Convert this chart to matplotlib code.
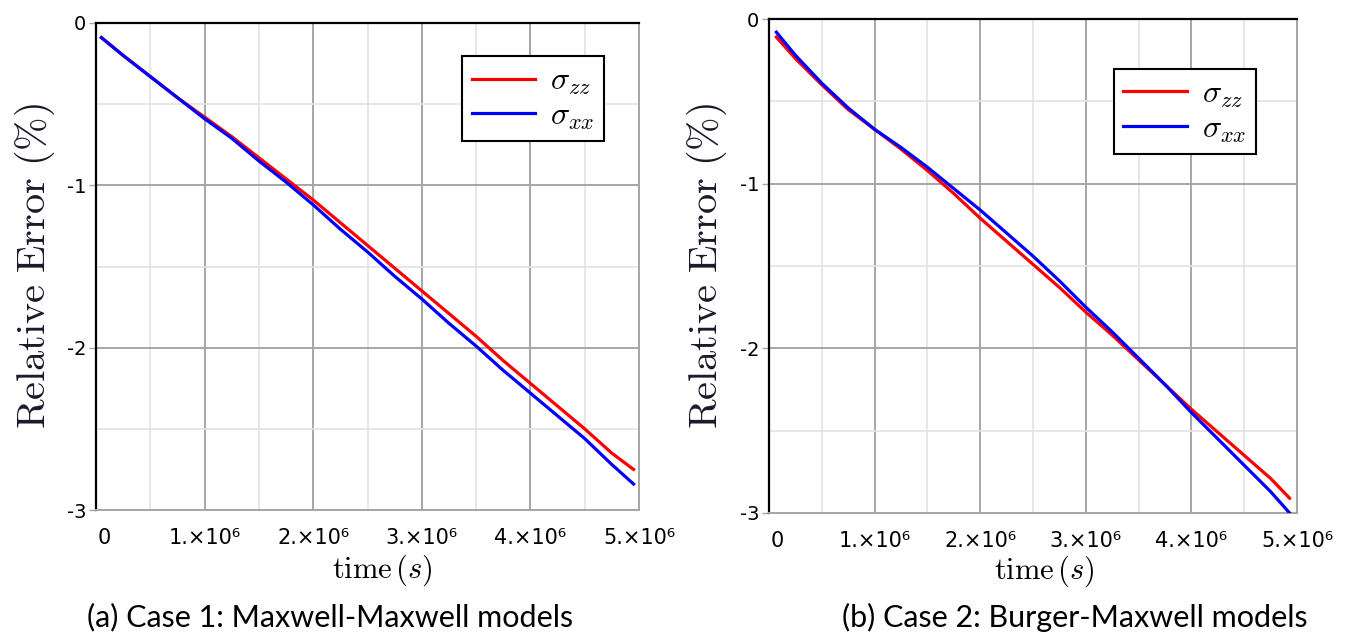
import matplotlib
matplotlib.use('agg')
import matplotlib.pyplot as plt
import matplotlib.transforms as mtransforms
from matplotlib.ticker import MultipleLocator, FixedLocator, FixedFormatter

plt.rcParams['mathtext.fontset'] = 'cm'

# Case 1: Maxwell-Maxwell
t1 = [0.05e6, 0.25e6, 0.5e6, 0.75e6, 1.0e6, 1.25e6, 1.5e6, 1.75e6, 2.0e6, 2.25e6, 2.5e6,
      2.75e6, 3.0e6, 3.25e6, 3.5e6, 3.75e6, 4.0e6, 4.25e6, 4.5e6, 4.75e6, 4.95e6]
zz1 = [-0.09, -0.20, -0.33, -0.46, -0.58, -0.70, -0.83, -0.96, -1.09, -1.23, -1.37,
       -1.51, -1.65, -1.79, -1.93, -2.08, -2.22, -2.36, -2.50, -2.65, -2.75]
xx1 = [-0.09, -0.20, -0.33, -0.46, -0.59, -0.71, -0.85, -0.98, -1.12, -1.27, -1.41,
       -1.56, -1.70, -1.85, -1.99, -2.14, -2.28, -2.42, -2.56, -2.72, -2.84]

# Case 2: Burger-Maxwell
t2 = [0.07e6, 0.25e6, 0.5e6, 0.75e6, 1.0e6, 1.25e6, 1.5e6, 1.75e6, 2.0e6, 2.25e6, 2.5e6,
      2.75e6, 3.0e6, 3.25e6, 3.5e6, 3.75e6, 4.0e6, 4.25e6, 4.5e6, 4.75e6, 4.93e6]
zz2 = [-0.11, -0.24, -0.40, -0.55, -0.67, -0.79, -0.92, -1.06, -1.21, -1.35, -1.49,
       -1.63, -1.78, -1.92, -2.07, -2.22, -2.37, -2.51, -2.65, -2.79, -2.91]
xx2 = [-0.08, -0.22, -0.39, -0.54, -0.67, -0.78, -0.90, -1.03, -1.16, -1.30, -1.44,
       -1.59, -1.75, -1.90, -2.06, -2.22, -2.39, -2.55, -2.71, -2.87, -3.00]

xticks = [0, 1e6, 2e6, 3e6, 4e6, 5e6]
xlabels = ['0', '1.×10⁶', '2.×10⁶', '3.×10⁶', '4.×10⁶', '5.×10⁶']
yticks = [0, -1, -2, -3]
ylabels = ['0', '-1', '-2', '-3']

W, H = 1349, 639
fig = plt.figure(figsize=(W / 100, H / 100), dpi=100)


def panel(rect, t, zz, xx, leg_pos, ylab_x, xlab_pos):
    ax = fig.add_axes(rect)
    ax.plot(t, zz, color='#ff0000', lw=2.3, label=r'$\sigma_{zz}$', zorder=3)
    ax.plot(t, xx, color='#0000ff', lw=2.3, label=r'$\sigma_{xx}$', zorder=3)
    ax.set_xlim(0, 5e6)
    ax.set_ylim(-3, 0)

    ax.xaxis.set_major_locator(FixedLocator(xticks))
    ax.xaxis.set_major_formatter(FixedFormatter(xlabels))
    ax.yaxis.set_major_locator(FixedLocator(yticks))
    ax.yaxis.set_major_formatter(FixedFormatter(ylabels))
    ax.xaxis.set_minor_locator(MultipleLocator(0.5e6))
    ax.yaxis.set_minor_locator(MultipleLocator(0.5))

    ax.grid(which='major', color='#a6a6a6', lw=1.4, zorder=0)
    ax.grid(which='minor', color='#e3e3e3', lw=1.2, zorder=0)
    ax.set_axisbelow(True)

    ax.tick_params(axis='x', which='both', length=0, pad=13, labelsize=15)
    ax.tick_params(axis='y', which='major', length=5, width=1, color='#a6a6a6',
                   pad=2, labelsize=14)
    ax.tick_params(axis='y', which='minor', length=0)

    # nudge the "0" under the origin a little to the right
    first = ax.get_xticklabels()[0]
    first.set_transform(first.get_transform() +
                        mtransforms.ScaledTranslation(8 / 100, 0, fig.dpi_scale_trans))

    for s in ['left', 'top']:
        ax.spines[s].set_color('black')
        ax.spines[s].set_linewidth(1.6)
    for s in ['bottom', 'right']:
        ax.spines[s].set_color('#a6a6a6')
        ax.spines[s].set_linewidth(1.4)

    ax.text(ylab_x, 0.5, r'$\mathrm{Relative\ Error\ (\%)}$', transform=ax.transAxes,
            rotation=90, ha='center', va='center', fontsize=29, color='#1a1a2a')
    ax.text(xlab_pos[0], xlab_pos[1], r'$\mathrm{time}\,(s)$', transform=ax.transAxes,
            ha='center', va='center', fontsize=22)

    leg = ax.legend(loc='upper left', bbox_to_anchor=leg_pos, fontsize=23,
                    frameon=True, fancybox=False, framealpha=1, edgecolor='black',
                    handlelength=2.0, handletextpad=0.45, borderpad=0.3,
                    labelspacing=0.1, borderaxespad=0)
    leg.get_frame().set_linewidth(1.5)
    return ax


ax1 = panel([96 / W, 1 - 510 / H, 543 / W, 487 / H], t1, zz1, xx1,
            (0.674, 0.932), -0.112, (0.527, -0.123))
ax2 = panel([769 / W, 1 - 513 / H, 528 / W, 494 / H], t2, zz2, xx2,
            (0.653, 0.899), -0.117, (0.521, -0.117))

fig.text(330 / W, 1 - 617 / H, '(a) Case 1: Maxwell-Maxwell models', ha='center',
         va='center', fontsize=22, family='Lato')
fig.text(1075 / W, 1 - 617 / H, '(b) Case 2: Burger-Maxwell models', ha='center',
         va='center', fontsize=22, family='Lato')

fig.savefig('out.png', dpi=100)
